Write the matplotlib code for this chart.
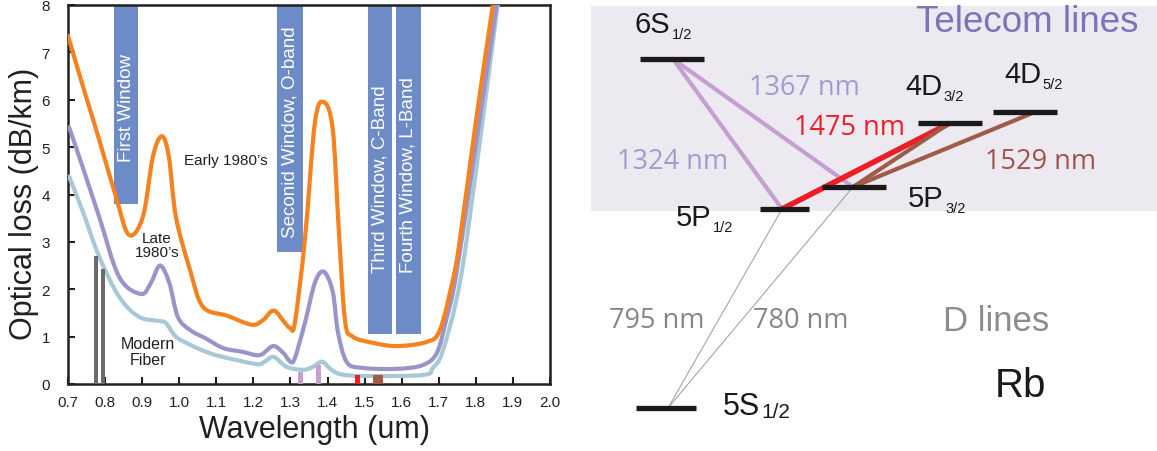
import numpy as np
import matplotlib.pyplot as plt
from matplotlib.path import Path
from matplotlib.patches import PathPatch

plt.rcParams['font.family'] = ['Liberation Sans', 'DejaVu Sans']

# fibre loss curves: wavelength (um) vs loss (dB/km)
early_x = [0.700, 0.740, 0.784, 0.829, 0.864, 0.902, 0.929, 0.953, 0.972, 0.991, 1.029,
           1.064, 1.130, 1.196, 1.226, 1.255, 1.285, 1.300, 1.312, 1.339, 1.366, 1.390, 1.414,
           1.430, 1.447, 1.468, 1.522, 1.587, 1.668, 1.703, 1.738, 1.757, 1.802, 1.846, 1.870]
early_y = [7.35, 6.29, 5.16, 3.96, 3.15, 3.53, 4.80, 5.23, 4.80, 3.53, 2.41,
           1.63, 1.44, 1.25, 1.35, 1.55, 1.29, 1.18, 1.30, 3.05, 5.52, 5.95, 5.38,
           3.30, 1.35, 1.00, 0.87, 0.80, 0.89, 1.14, 2.20, 3.05, 5.65, 8.00, 9.30]

late_x = [0.703, 0.740, 0.784, 0.838, 0.897, 0.924, 0.948, 0.973, 0.996, 1.029, 1.072,
          1.118, 1.170, 1.217, 1.253, 1.280, 1.300, 1.312, 1.339, 1.366, 1.390, 1.414, 1.428,
          1.452, 1.495, 1.587, 1.657, 1.695, 1.720, 1.740, 1.760, 1.784, 1.820, 1.856, 1.880]
late_y = [5.42, 4.57, 3.53, 2.26, 1.90, 2.14, 2.50, 2.14, 1.42, 1.14, 0.96,
          0.76, 0.68, 0.61, 0.80, 0.66, 0.47, 0.55, 1.29, 2.14, 2.37, 1.95, 1.10,
          0.46, 0.34, 0.32, 0.40, 0.66, 1.35, 2.00, 2.95, 4.20, 6.10, 8.00, 9.20]

modern_x = [0.703, 0.740, 0.784, 0.838, 0.891, 0.945, 0.964, 0.991, 1.029, 1.072, 1.118,
            1.209, 1.230, 1.255, 1.290, 1.334, 1.360, 1.385, 1.406, 1.433, 1.495, 1.657,
            1.684, 1.711, 1.757, 1.802, 1.859, 1.880]
modern_y = [4.38, 3.64, 2.69, 1.84, 1.42, 1.33, 1.29, 1.00, 0.83, 0.68, 0.57,
            0.42, 0.47, 0.57, 0.36, 0.30, 0.36, 0.47, 0.33, 0.21, 0.17, 0.19,
            0.34, 0.70, 2.14, 4.59, 8.00, 9.10]

# telecom windows
band_names = ["First Window", "Seconid Window, O-band", "Third Window, C-Band", "Fourth Window, L-Band"]
band_lo = [0.823, 1.265, 1.508, 1.584]
band_hi = [0.890, 1.333, 1.575, 1.651]
band_floor = [3.80, 2.79, 1.05, 1.05]

# atomic transition markers on the wavelength axis
mark_x = [0.775, 0.794, 1.327, 1.375, 1.480, 1.536]
mark_h = [2.71, 2.43, 0.25, 0.40, 0.18, 0.18]

# Rb level scheme (schematic, diagram units grow downward)
level_main = ["6S", "5P", "5P", "4D", "4D", "5S"]
level_sub = ["1/2", "1/2", "3/2", "3/2", "5/2", "1/2"]
level_left = [640, 760, 822, 918, 993, 636]
level_right = [704, 809, 886, 982, 1057, 696]
level_y = [60, 210, 188, 124, 113, 409]
level_anchor = [673, 782, 853, 950, 1035, 668]

trans_from = [0, 0, 1, 2, 2, 5, 5]
trans_to = [1, 2, 3, 3, 4, 1, 2]
trans_nm = [1324, 1367, 1475, 1529, 1529, 795, 780]

C_ORANGE = '#f5821f'
C_PURPLE = '#9b94cb'
C_BLUE = '#a7c9d6'
C_BAND = '#6d8bc7'
C_LILAC = '#c59fd0'
C_RED = '#ee1c25'
C_BROWN = '#9e5b47'
C_GRAY = '#6b6b6b'


def smooth_path(x, y, t=1 / 6):
    pts = np.column_stack([x, y])
    n = len(pts)
    verts = [pts[0]]
    codes = [Path.MOVETO]
    for i in range(n - 1):
        p0 = pts[max(i - 1, 0)]
        p1 = pts[i]
        p2 = pts[i + 1]
        p3 = pts[min(i + 2, n - 1)]
        verts += [p1 + (p2 - p0) * t, p2 - (p3 - p1) * t, p2]
        codes += [Path.CURVE4] * 3
    return Path(verts, codes)


fig = plt.figure(figsize=(11.57, 4.52), dpi=100)

# ---------------- left: loss spectrum ----------------
ax = fig.add_axes([68 / 1157, 1 - 385 / 452, 482 / 1157, 379 / 452])
ax.set_xlim(0.7, 2.0)
ax.set_ylim(0, 8)

for name, lo, hi, fl in zip(band_names, band_lo, band_hi, band_floor):
    ax.bar(lo, 8 - fl, bottom=fl, width=hi - lo, align='edge', color=C_BAND, zorder=1)

ax.text((band_lo[0] + band_hi[0]) / 2, 4.70, band_names[0], rotation=90, ha='center', va='bottom',
        color='white', fontsize=13.5, zorder=2)
ax.text((band_lo[1] + band_hi[1]) / 2, 3.11, band_names[1], rotation=90, ha='center', va='bottom',
        color='white', fontsize=13.5, zorder=2)
for i in (2, 3):
    ax.text((band_lo[i] + band_hi[i]) / 2, 2.37, band_names[i], rotation=90, ha='center',
            va='bottom', color='white', fontsize=13.5, zorder=2)

for xs, ys, c in [(modern_x, modern_y, C_BLUE), (late_x, late_y, C_PURPLE), (early_x, early_y, C_ORANGE)]:
    ax.add_patch(PathPatch(smooth_path(xs, ys), fill=False, edgecolor=c, lw=3.0,
                           capstyle='round', joinstyle='round', zorder=3))

mark_w = [0.011, 0.011, 0.0135, 0.0135, 0.0135, 0.027]
mark_c = [C_GRAY, C_GRAY, C_LILAC, C_LILAC, C_RED, C_BROWN]
ax.bar(mark_x, mark_h, width=mark_w, color=mark_c, zorder=4)

ax.text(1.126, 4.72, "Early 1980\u2019s", fontsize=11, ha='center', va='center', color='#231f20')
ax.text(0.94, 2.94, "Late\n1980\u2019s", fontsize=11, ha='center', va='center', linespacing=1.0,
        color='#231f20')
ax.text(0.916, 0.68, "Modern\nFiber", fontsize=11.5, ha='center', va='center', linespacing=1.05,
        color='#231f20')

ax.set_xticks(np.round(np.arange(0.7, 2.01, 0.1), 1))
ax.set_xticklabels([f"{v:.1f}" for v in np.arange(0.7, 2.01, 0.1)])
ax.set_yticks(range(0, 9))
ax.tick_params(axis='both', direction='in', length=5, width=1.5, labelsize=11,
               colors='#231f20')
ax.tick_params(axis='x', pad=8)
ax.tick_params(axis='y', pad=13)
for s in ax.spines.values():
    s.set_linewidth(1.8)
    s.set_color('#231f20')
ax.set_xlabel("Wavelength (um)", fontsize=22, color='#231f20')
ax.set_ylabel("Optical loss (dB/km)", fontsize=22, color='#231f20')
ax.xaxis.set_label_coords(0.512, -0.078)
ax.yaxis.set_label_coords(-0.06, 0.478)

# ---------------- right: Rb level scheme ----------------
ax2 = fig.add_axes([590 / 1157, 0, 567 / 1157, 1])
ax2.set_xlim(590, 1157)
ax2.set_ylim(452, 0)
ax2.axis('off')

ax2.bar(591, 212 - 7, bottom=7, width=1157 - 591, align='edge', color='#ece9f1', zorder=0)

trans_style = {1324: (C_LILAC, 3.0), 1367: (C_LILAC, 3.0), 1475: (C_RED, 4.0),
               1529: (C_BROWN, 3.0), 795: ('#9a9a9a', 0.7), 780: ('#9a9a9a', 0.7)}
for a, b, nm in zip(trans_from, trans_to, trans_nm):
    c, lw = trans_style[nm]
    ax2.plot([level_anchor[a], level_anchor[b]], [level_y[a], level_y[b]], color=c, lw=lw,
             solid_capstyle='butt', zorder=2)

for x0, x1, y in zip(level_left, level_right, level_y):
    ax2.plot([x0, x1], [y, y], color='#1a1a1a', lw=3.8, solid_capstyle='butt', zorder=3)

label_pos = [(635, 33), (676, 226), (908, 207), (905, 95), (1004, 83), (723, 415)]
for i, (lx, ly) in enumerate(label_pos):
    big, small = (22, 15) if level_main[i] == "5S" else (21, 10.5)
    t = ax2.text(lx, ly, level_main[i], fontsize=big, ha='left', va='baseline', color='#1a1a1a')
    ax2.annotate(level_sub[i], xy=(1, 0), xycoords=t, xytext=(1, -2 if big == 21 else 0),
                 textcoords='offset points', ha='left', va='bottom', fontsize=small,
                 color='#1a1a1a')

nm_text = [("1324 nm", 673, 162, '#a29bcf'), ("1367 nm", 804, 88, '#a29bcf'),
           ("1475 nm", 849, 128, C_RED), ("1529 nm", 1041, 162, '#a0534d'),
           ("795 nm", 657, 321, '#858585'), ("780 nm", 801, 321, '#858585')]
for s, x, y, c in nm_text:
    ax2.text(x, y, s, fontsize=19.5, family=['Open Sans', 'DejaVu Sans'], color=c,
             ha='center', va='center', zorder=4)

ax2.text(1027, 23, "Telecom lines", fontsize=26.5, color='#7c74b8', ha='center', va='center')
ax2.text(996, 322, "D lines", fontsize=25, color='#8c8c8c', ha='center', va='center')
ax2.text(1020, 386, "Rb", fontsize=29, color='#1a1a1a', ha='center', va='center')

fig.savefig("out.png", dpi=100)
